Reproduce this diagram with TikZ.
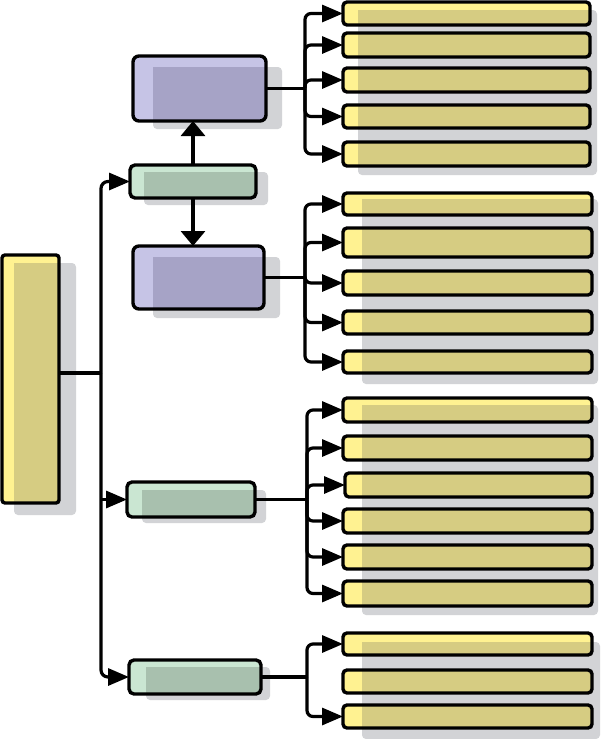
\documentclass[tikz,border=0pt]{standalone}
\usetikzlibrary{arrows.meta}
\definecolor{yellowL}{RGB}{255,242,145}
\definecolor{yellowD}{RGB}{214,204,130}
\definecolor{shadowc}{RGB}{210,211,214}
\definecolor{greenL}{RGB}{202,230,210}
\definecolor{greenD}{RGB}{168,192,174}
\definecolor{purpleL}{RGB}{198,196,230}
\definecolor{purpleD}{RGB}{166,163,198}
\tikzset{
  boxbase/.style={rectangle,inner sep=0pt,outer sep=0pt,draw=none,fill=none},
  border/.style={draw=black,line width=3.4pt},
  conn/.style={draw=black,line width=3.2pt},
  arr/.style={-{Triangle[length=21pt,width=17pt]}},
  varr/.style={-{Triangle[length=15pt,width=24pt]}},
}
\newcommand\rad{4pt}
% name, x1, y1, x2, y2, darkx, darky, light, dark
\newcommand\mkbox[9]{%
  \node[boxbase,minimum width={(#4-#2)*1pt},minimum height={(#5-#3)*1pt}] (#1) at ({(#2+#4)/2},{(#3+#5)/2}) {};
  \fill[#8,rounded corners=\rad] (#1.north west) rectangle (#1.south east);
  \begin{scope}
    \clip[rounded corners=\rad] (#1.north west) rectangle (#1.south east);
    \fill[#9] (#6,#7) rectangle ([shift={(30pt,-30pt)}]#1.south east);
  \end{scope}
  \draw[border,rounded corners=\rad] (#1.north west) rectangle (#1.south east);
}
\begin{document}
\begin{tikzpicture}[x=1pt,y=-1pt]
\useasboundingbox (0,0) rectangle (605,739);
\fill[white] (0,0) rectangle (605,739);
% shadows
\fill[shadowc,rounded corners=4pt] (14,263) rectangle (76,515);
\fill[shadowc,rounded corners=4pt] (144,172) rectangle (268,205);
\fill[shadowc,rounded corners=4pt] (153,67) rectangle (282,129);
\fill[shadowc,rounded corners=4pt] (153,257) rectangle (280,318);
\fill[shadowc,rounded corners=4pt] (142,490) rectangle (266,523);
\fill[shadowc,rounded corners=4pt] (146,667) rectangle (270,700);
\fill[shadowc,rounded corners=4pt] (358,10) rectangle (597,175);
\fill[shadowc,rounded corners=4pt] (362,199) rectangle (598,384);
\fill[shadowc,rounded corners=4pt] (362,405) rectangle (598,615);
\fill[shadowc,rounded corners=4pt] (362,642) rectangle (600,739);
% left tall box
\renewcommand\rad{3pt}
\mkbox{L}{2}{255}{59}{503}{14}{263}{yellowL}{yellowD}
% green boxes
\renewcommand\rad{5pt}
\mkbox{G1}{130}{165}{256}{198}{144}{172}{greenL}{greenD}
\mkbox{G3}{127}{482}{255}{517}{142}{490}{greenL}{greenD}
\mkbox{G4}{129}{660}{261}{694}{146}{667}{greenL}{greenD}
% purple boxes
\renewcommand\rad{6pt}
\mkbox{P1}{133}{56}{266}{121}{153}{67}{purpleL}{purpleD}
\mkbox{P2}{133}{246}{264}{309}{153}{257}{purpleL}{purpleD}
% right boxes
\renewcommand\rad{4pt}
\mkbox{r11}{343}{2}{590}{25}{358}{10}{yellowL}{yellowD}
\mkbox{r12}{343}{33}{590}{57}{358}{10}{yellowL}{yellowD}
\mkbox{r13}{343}{68}{590}{92}{358}{10}{yellowL}{yellowD}
\mkbox{r14}{343}{105}{590}{128}{358}{10}{yellowL}{yellowD}
\mkbox{r15}{343}{142}{590}{166}{358}{10}{yellowL}{yellowD}
\mkbox{r21}{343}{193}{592}{215}{362}{199}{yellowL}{yellowD}
\mkbox{r22}{343}{228}{592}{257}{362}{199}{yellowL}{yellowD}
\mkbox{r23}{343}{271}{592}{295}{362}{199}{yellowL}{yellowD}
\mkbox{r24}{343}{311}{592}{334}{362}{199}{yellowL}{yellowD}
\mkbox{r25}{343}{351}{592}{373}{362}{199}{yellowL}{yellowD}
\mkbox{r31}{343}{398}{592}{422}{362}{405}{yellowL}{yellowD}
\mkbox{r32}{343}{436}{592}{460}{362}{405}{yellowL}{yellowD}
\mkbox{r33}{345}{473}{592}{497}{362}{405}{yellowL}{yellowD}
\mkbox{r34}{343}{509}{592}{533}{362}{405}{yellowL}{yellowD}
\mkbox{r35}{343}{545}{592}{569}{362}{405}{yellowL}{yellowD}
\mkbox{r36}{343}{581}{592}{606}{362}{405}{yellowL}{yellowD}
\mkbox{r41}{343}{633}{592}{655}{362}{642}{yellowL}{yellowD}
\mkbox{r42}{343}{670}{592}{693}{362}{642}{yellowL}{yellowD}
\mkbox{r43}{343}{705}{592}{728}{362}{642}{yellowL}{yellowD}
% trunk
\coordinate (T) at (101,373);
\draw[conn] (T -| L.east) -- (T);
\draw[conn,arr,rounded corners=7pt] (T) |- (G1.west);
\draw[conn,arr] (T |- G3.west) -- (G3.west);
\draw[conn,arr,rounded corners=7pt] (T) |- (G4.west);
% vertical arrows
\draw[conn,varr] (G1.north) -- (G1.north |- P1.south);
\draw[conn,varr] (G1.south) -- (G1.south |- P2.north);
% brackets
\coordinate (B1) at (305,88.5);
\draw[conn] (P1.east) -- (B1);
\foreach \i in {1,...,5}{\draw[conn,arr,rounded corners=6pt] (B1) |- (r1\i.west);}
\coordinate (B2) at (305,277.5);
\draw[conn] (P2.east) -- (B2);
\foreach \i in {1,...,5}{\draw[conn,arr,rounded corners=6pt] (B2) |- (r2\i.west);}
\coordinate (B3) at (307,499.5);
\draw[conn] (G3.east) -- (B3);
\foreach \i in {1,...,6}{\draw[conn,arr,rounded corners=6pt] (B3) |- (r3\i.west);}
\coordinate (B4) at (307,677);
\draw[conn] (G4.east) -- (B4);
\draw[conn,arr,rounded corners=6pt] (B4) |- (r41.west);
\draw[conn,arr,rounded corners=6pt] (B4) |- (r43.west);
\end{tikzpicture}
\end{document}
